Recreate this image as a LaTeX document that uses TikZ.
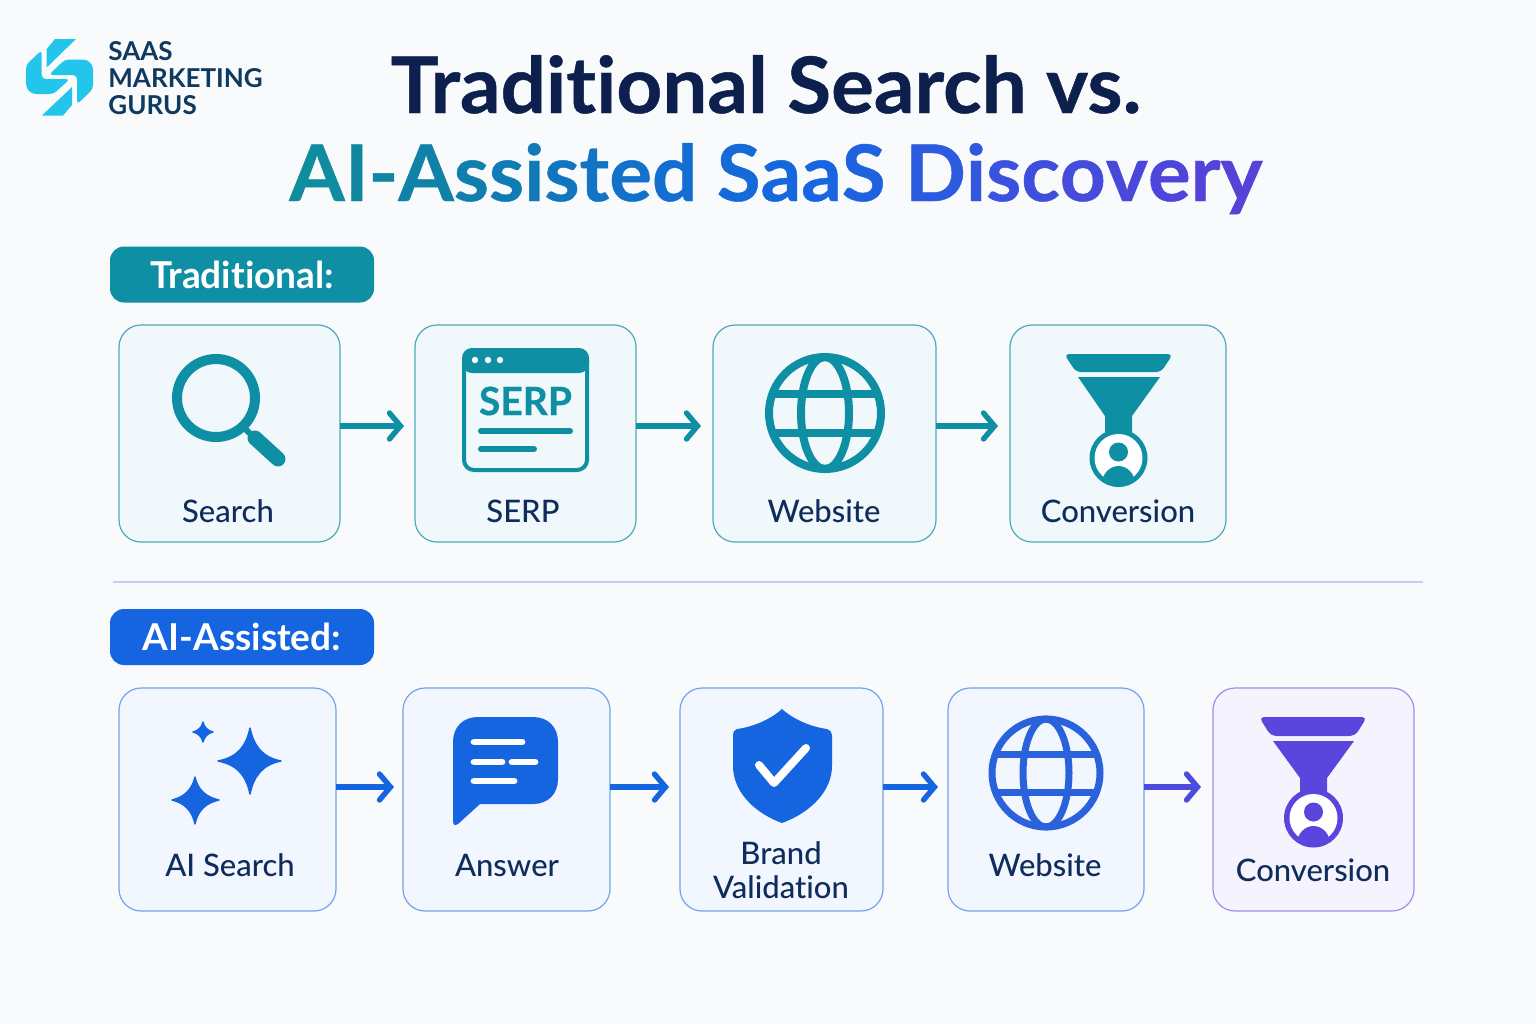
\documentclass[tikz,border=0pt]{standalone}
\usepackage{fontspec}
\usetikzlibrary{arrows.meta}
\setmainfont{Lato}
\newfontfamily\labfont[Ligatures=NoCommon]{Lato Medium}
\newfontfamily\boldfont[Ligatures=NoCommon]{Lato Bold}
\newfontfamily\serpfont[Ligatures=NoCommon,FakeBold=0.5]{Lato Bold}
\newfontfamily\titlefont[Ligatures=NoCommon,FakeBold=0.6,FakeStretch=1.025]{Lato Bold}
\definecolor{bgc}{HTML}{F9FAFC}
\definecolor{tealc}{HTML}{0E8FA3}
\definecolor{tealfill}{HTML}{F1F8FB}
\definecolor{bluefill}{HTML}{F2F6FE}
\definecolor{purpfill}{HTML}{F5F4FE}
\definecolor{bluec}{HTML}{1565E0}
\definecolor{globec}{HTML}{2A62DC}
\definecolor{purpc}{HTML}{5A45DD}
\definecolor{inkc}{HTML}{0F2D5C}
\definecolor{titlec}{HTML}{0D1F4D}
\definecolor{logoc}{HTML}{22C6EA}
\definecolor{logot}{HTML}{0E3A5F}
\newcommand{\gl}[2]{{\color[HTML]{#1}#2}}
\tikzset{
  x=0.5pt,y=-0.5pt,
  tealbox/.style={draw=tealc!75,line width=0.6pt,fill=tealfill,rounded corners=11pt,inner sep=0pt,outer sep=0pt,minimum height=108.5pt},
  bluebox/.style={draw=bluec!60,line width=0.6pt,fill=bluefill,rounded corners=11pt,inner sep=0pt,outer sep=0pt,minimum height=111.5pt},
  purpbox/.style={draw=purpc!60,line width=0.6pt,fill=purpfill,rounded corners=11pt,inner sep=0pt,outer sep=0pt,minimum height=111.5pt},
  lab/.style={text=inkc,font=\labfont\fontsize{15.5}{17}\selectfont,align=center,inner sep=0pt},
  badge/.style={rounded corners=7pt,minimum width=132pt,minimum height=28pt,inner sep=0pt,text=white,font=\boldfont\fontsize{18.5}{20}\selectfont},
  conn/.style={line width=2.7pt,-{Straight Barb[length=5.5pt,width=13pt,line cap=round,line width=2.7pt]}},
  ttl/.style={inner sep=0pt,font=\titlefont\fontsize{39}{42}\selectfont},
  logotext/.style={inner sep=0pt,anchor=west,text=logot,font=\boldfont\fontsize{13}{15}\selectfont},
}
\begin{document}
\begin{tikzpicture}
\useasboundingbox (0,0) rectangle (1536,1024);
\fill[bgc] (0,0) rectangle (1536,1024);

% logo
\begin{scope}[logoc]
\fill (55,39) -- (76,39) -- (46.7,67.5) -- (46.7,49) -- cycle;
\fill[rounded corners=2pt] (41.7,50) -- (41.7,79) -- (70,79) -- (53.5,94) -- (32,94) -- (26,88) -- (26,65) -- cycle;
\fill (63,115.5) -- (42,115.5) -- (72,87) -- (72,105) -- cycle;
\fill[rounded corners=2pt] (77,104.5) -- (77,75) -- (48.7,75) -- (65,59.5) -- (87,59.5) -- (93,65.5) -- (93,89) -- cycle;
\end{scope}
\node[logotext] (lg1) at (108,51) {SAAS};
\node[logotext] (lg2) at (108,78) {MARKETING};
\node[logotext] (lg3) at (108,105) {GURUS};

% title
\node[ttl,text=titlec,anchor=base] (t1) at (766,113) {Traditional Search vs.};
\node[ttl,anchor=base] (t2) at (776,201) {\gl{0F8C9E}{A}\gl{0F889F}{I}\gl{1085A4}{-}\gl{1082A8}{A}\gl{117FAE}{s}\gl{117CB3}{s}\gl{1279B9}{i}\gl{1276BF}{s}\gl{1373C5}{t}\gl{1370CB}{e}\gl{146DD1}{d} \gl{1569D9}{S}\gl{1567DC}{a}\gl{1765E0}{a}\gl{1E62E0}{S} \gl{2C5BDF}{D}\gl{3356DE}{i}\gl{3A52DD}{s}\gl{404EDC}{c}\gl{454BDB}{o}\gl{4A48DA}{v}\gl{4E46DA}{e}\gl{5244D9}{r}\gl{5642D8}{y}};

% badges
\node[badge,fill=tealc] (bt) at (242,274.5) {Traditional:};
\node[badge,fill=bluec] (ba) at (242,637) {AI-Assisted:};

% divider
\coordinate (dl) at (113,582);
\coordinate (dr) at (1423,582);
\draw[line width=0.6pt,draw=globec!30!white] (dl) -- (dr);

% top row boxes
\node[tealbox,minimum width=110.5pt] (b1) at (229.5,433.5) {};
\node[tealbox,minimum width=110.5pt] (b2) at (525.5,433.5) {};
\node[tealbox,minimum width=111.5pt] (b3) at (824.5,433.5) {};
\node[tealbox,minimum width=108pt] (b4) at (1118,433.5) {};
\node[lab] (l1) at (228,511) {Search};
\node[lab] (l2) at (523,511) {SERP};
\node[lab] (l3) at (824,511) {Website};
\node[lab] (l4) at (1118,511) {Conversion};

% bottom row boxes
\node[bluebox,minimum width=108.5pt] (c1) at (227.5,799.5) {};
\node[bluebox,minimum width=103.5pt] (c2) at (506.5,799.5) {};
\node[bluebox,minimum width=101.5pt] (c3) at (781.5,799.5) {};
\node[bluebox,minimum width=98pt] (c4) at (1046,799.5) {};
\node[purpbox,minimum width=100.5pt] (c5) at (1313.5,799.5) {};
\node[lab] (m1) at (230,865) {AI Search};
\node[lab] (m2) at (507,865) {Answer};
\node[lab] (m3) at (781,870) {Brand\\Validation};
\node[lab] (m4) at (1045,865) {Website};
\node[lab] (m5) at (1313,870) {Conversion};

% connectors
\coordinate (a1) at (404,426);
\coordinate (a2) at (701,426);
\coordinate (a3) at (998,426);
\draw[conn,tealc] (b1.east |- a1) -- (a1);
\draw[conn,tealc] (b2.east |- a2) -- (a2);
\draw[conn,tealc] (b3.east |- a3) -- (a3);
\coordinate (d1) at (394,787);
\coordinate (d2) at (669,787);
\coordinate (d3) at (938,787);
\coordinate (d4) at (1201,787);
\draw[conn,bluec] (c1.east |- d1) -- (d1);
\draw[conn,bluec] (c2.east |- d2) -- (d2);
\draw[conn,bluec] (c3.east |- d3) -- (d3);
\draw[conn,purpc!80!bluec] (c4.east |- d4) -- (d4);

% magnifier
\begin{scope}[tealc]
\draw[line width=5pt] (216,398) circle (39);
\draw[line width=3pt] (243,427) -- (256,439);
\draw[line width=7.5pt,line cap=round] (255,438) -- (278,459);
\end{scope}

% SERP window
\begin{scope}[tealc]
\draw[line width=2pt,rounded corners=5pt] (464,350) rectangle (587,470);
\fill[rounded corners=5pt] (462,373) -- (462,348) -- (589,348) -- (589,373) -- cycle;
\fill[white] (475,360) circle (3.2) (488,360) circle (3.2) (500,360) circle (3.2);
\node[inner sep=0pt,text=tealc,font=\serpfont\fontsize{19.5}{22}\selectfont] (st) at (525.5,401) {SERP};
\draw[line width=3pt,line cap=round] (481,431) -- (570,431);
\draw[line width=3pt,line cap=round] (481,449) -- (534,449);
\end{scope}

% top globe
\begin{scope}[tealc]
\begin{scope}
\clip (825,413) circle (58);
\draw[line width=4pt] (760,393.5) -- (890,393.5);
\draw[line width=4pt] (760,432.5) -- (890,432.5);
\end{scope}
\draw[line width=4pt] (825,413) ellipse [x radius=24,y radius=56];
\draw[line width=4pt] (825,413) circle (56);
\end{scope}

% top funnel
\begin{scope}[tealc]
\fill[rounded corners=2.5pt] (1064,354) -- (1173,354) -- (1161,372) -- (1076,372) -- cycle;
\fill (1078,377) -- (1160,377) -- (1132,416) -- (1132,440) -- (1105,440) -- (1105,416) -- cycle;
\fill (1118.5,458) circle (29);
\fill[white] (1118.5,458) circle (24);
\fill (1118.5,452) circle (9.5);
\begin{scope}
\clip (1118.5,458) circle (24.5);
\fill (1118.5,484) ellipse [x radius=16.5,y radius=18];
\end{scope}
\end{scope}

% sparkles
\begin{scope}[bluec,fill=bluec,draw=bluec,line width=0.7pt,line join=round]
\filldraw (250,728) .. controls (254,746) and (262,757) .. (281,761) .. controls (262,765) and (254,776) .. (250,794) .. controls (246,776) and (238,765) .. (218,761) .. controls (238,757) and (246,746) .. (250,728) -- cycle;
\filldraw (195,777) .. controls (198,790) and (206,797) .. (219,800) .. controls (206,803) and (198,810) .. (195,824) .. controls (192,810) and (184,803) .. (172,800) .. controls (184,797) and (192,790) .. (195,777) -- cycle;
\filldraw (203,722) .. controls (204,727) and (208,731) .. (213,732) .. controls (208,733) and (204,737) .. (203,742) .. controls (202,737) and (198,733) .. (193,732) .. controls (198,731) and (202,727) .. (203,722) -- cycle;
\end{scope}

% chat bubble
\fill[bluec] (478,717) -- (533,717) .. controls (548,717) and (558,727) .. (558,742) -- (558,779) .. controls (558,794) and (548,804) .. (533,804) -- (480,804) -- (458,824) .. controls (455,826) and (453,825) .. (453,821) -- (453,742) .. controls (453,727) and (463,717) .. (478,717) -- cycle;
\begin{scope}[white,line width=3.4pt,line cap=round]
\draw (474,742) -- (522,742);
\draw (474,762) -- (502,762);
\draw (512,762) -- (535,762);
\draw (474,781) -- (514,781);
\end{scope}

% shield
\fill[bluec] (782,709) .. controls (770,720) and (752,727) .. (737,729) .. controls (734,730) and (733,732) .. (733,735) -- (733,766) .. controls (733,790) and (752,812) .. (782,823) .. controls (812,812) and (832,790) .. (832,766) -- (832,735) .. controls (832,732) and (830,730) .. (827,729) .. controls (812,727) and (794,720) .. (782,709) -- cycle;
\draw[white,line width=4pt,line cap=round,line join=round] (759,765) -- (774,783) -- (806,748);

% bottom globe
\begin{scope}[globec]
\begin{scope}
\clip (1046,773) circle (55);
\draw[line width=3.5pt] (980,754) -- (1110,754);
\draw[line width=3.5pt] (980,792) -- (1110,792);
\end{scope}
\draw[line width=3.5pt] (1046,773) ellipse [x radius=23,y radius=54];
\draw[line width=3.5pt] (1046,773) circle (54);
\end{scope}

% bottom funnel
\begin{scope}[purpc]
\fill[rounded corners=2.5pt] (1259,717) -- (1367,717) -- (1355,736) -- (1271,736) -- cycle;
\fill (1273,741) -- (1354,741) -- (1327,778) -- (1327,800) -- (1300,800) -- (1300,778) -- cycle;
\fill (1313.5,818) circle (29.5);
\fill[white] (1313.5,818) circle (24);
\fill (1313.5,812) circle (9.5);
\begin{scope}
\clip (1313.5,818) circle (24.5);
\fill (1313.5,844) ellipse [x radius=16.5,y radius=18];
\end{scope}
\end{scope}
\end{tikzpicture}
\end{document}
